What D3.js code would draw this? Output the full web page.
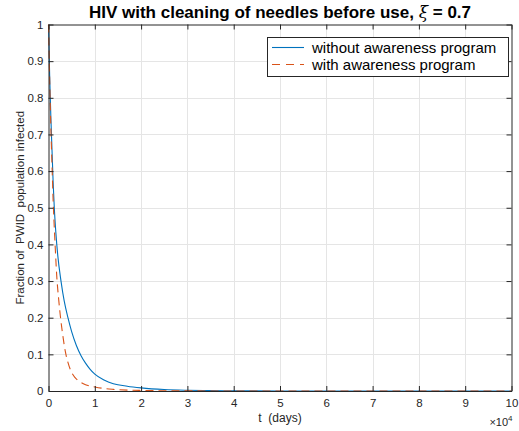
<!DOCTYPE html>
<html>
<head>
<meta charset="utf-8">
<script src="https://cdn.jsdelivr.net/npm/d3@7"></script>
<style>
  body { margin: 0; background: #fff; }
  text { font-family: "Liberation Sans", Arial, Helvetica, sans-serif; white-space: pre; }
</style>
</head>
<body>
<div id="chart"></div>
<script>
var W = 519, H = 431;
var margin = {left: 48.5, right: 8, top: 24.5, bottom: 40};

// time in days
var tWithout = [0, 250, 500, 750, 1000, 1250, 1600, 2000, 2700, 3400, 4200, 5000, 6000, 7000, 8000, 9000, 10000,
                12000, 14000, 17000, 20000, 25000, 30000, 35000, 40000, 50000, 70000, 100000];
var without = [1.0, 0.86, 0.75, 0.66, 0.57, 0.5, 0.43, 0.37, 0.3, 0.245, 0.2, 0.162, 0.125, 0.097, 0.076, 0.059, 0.046,
               0.03, 0.02, 0.013, 0.0085, 0.004, 0.002, 0.001, 0.0005, 0.0001, 0.0, 0.0];

var tWith = [0, 200, 400, 600, 800, 1000, 1200, 1500, 1800, 2200, 2600, 3000, 3600, 4200, 4900, 5700, 6700, 8000, 10000,
             12000, 14000, 17000, 20000, 25000, 30000, 40000, 60000, 100000];
var withProg = [1.0, 0.88, 0.77, 0.68, 0.6, 0.52, 0.46, 0.38, 0.31, 0.25, 0.2, 0.16, 0.11, 0.078, 0.053, 0.037, 0.026, 0.017, 0.011,
                0.0068, 0.0045, 0.0025, 0.0015, 0.0007, 0.0003, 0.0001, 0.0, 0.0];

var xTicks = [0, 1, 2, 3, 4, 5, 6, 7, 8, 9, 10];
var yTicks = [0, 0.1, 0.2, 0.3, 0.4, 0.5, 0.6, 0.7, 0.8, 0.9, 1];
var seriesNames = ["without awareness program", "with awareness program"];
var seriesColors = ["#0072BD", "#D95319"];

var svg = d3.select("#chart").append("svg")
    .attr("width", W)
    .attr("height", H);

var x = d3.scaleLinear().domain([0, 10]).range([margin.left, W - margin.right + 0.5]);
var y = d3.scaleLinear().domain([0, 1]).range([H - margin.bottom, margin.top]);

var axisCol = "#262626";

// grid
svg.append("g").selectAll("line")
    .data(xTicks.slice(1, -1)).enter().append("line")
    .attr("x1", function (d) { return Math.round(x(d)) + 0.5; })
    .attr("x2", function (d) { return Math.round(x(d)) + 0.5; })
    .attr("y1", y(0)).attr("y2", y(1))
    .attr("stroke", "#e5e5e5").attr("stroke-width", 1);
svg.append("g").selectAll("line")
    .data(yTicks.slice(1, -1)).enter().append("line")
    .attr("y1", function (d) { return Math.round(y(d)) + 0.5; })
    .attr("y2", function (d) { return Math.round(y(d)) + 0.5; })
    .attr("x1", x(0)).attr("x2", x(10))
    .attr("stroke", "#e5e5e5").attr("stroke-width", 1);

// lines
function makeLine(ts) {
    return d3.line()
        .x(function (d, i) { return x(ts[i] / 1e4); })
        .y(function (d) { return y(d); })
        .curve(d3.curveMonotoneX);
}

svg.append("path").datum(without)
    .attr("d", makeLine(tWithout))
    .attr("fill", "none")
    .attr("stroke", seriesColors[0])
    .attr("stroke-width", 1.1);

svg.append("path").datum(withProg)
    .attr("d", makeLine(tWith))
    .attr("fill", "none")
    .attr("stroke", seriesColors[1])
    .attr("stroke-width", 1.1)
    .attr("stroke-dasharray", "8,5");

// axes (box with ticks on all sides)
var fmt = d3.format("~g");
var axBottom = d3.axisBottom(x).tickValues(xTicks).tickFormat(fmt).tickSizeInner(-5).tickSizeOuter(0).tickPadding(8);
var axTop = d3.axisTop(x).tickValues(xTicks).tickSizeInner(-5).tickSizeOuter(0).tickFormat("");
var axLeft = d3.axisLeft(y).tickValues(yTicks).tickFormat(fmt).tickSizeInner(-5).tickSizeOuter(0).tickPadding(5);
var axRight = d3.axisRight(y).tickValues(yTicks).tickSizeInner(-5).tickSizeOuter(0).tickFormat("");

function styleAxis(g) {
    g.selectAll("path").attr("stroke", axisCol);
    g.selectAll("line").attr("stroke", axisCol);
    g.selectAll("text").attr("fill", axisCol).style("font-size", "11.5px");
}

svg.append("g").attr("transform", "translate(0," + y(0) + ")").call(axBottom).call(styleAxis);
svg.append("g").attr("transform", "translate(0," + y(1) + ")").call(axTop).call(styleAxis);
svg.append("g").attr("transform", "translate(" + x(0) + ",0)").call(axLeft).call(styleAxis);
svg.append("g").attr("transform", "translate(" + x(10) + ",0)").call(axRight).call(styleAxis);

// exponent label
var ex = svg.append("text")
    .attr("x", x(10) + 1)
    .attr("y", 426)
    .attr("text-anchor", "end")
    .attr("fill", axisCol)
    .style("font-size", "11px");
ex.append("tspan").text("\u00d710");
ex.append("tspan").attr("dy", -5).style("font-size", "8px").text("4");

// axis labels
svg.append("text")
    .attr("x", (x(0) + x(10)) / 2)
    .attr("y", 422)
    .attr("text-anchor", "middle")
    .attr("fill", axisCol)
    .style("font-size", "12px")
    .text("t  (days)");

svg.append("text")
    .attr("transform", "translate(24," + ((y(0) + y(1)) / 2) + ") rotate(-90)")
    .attr("text-anchor", "middle")
    .attr("fill", axisCol)
    .style("font-size", "11.5px")
    .text("Fraction of  PWID  population infected");

// title
var title = svg.append("text")
    .attr("x", (x(0) + x(10)) / 2)
    .attr("y", 18)
    .attr("text-anchor", "middle")
    .attr("fill", "#000")
    .style("font-size", "17px")
    .style("font-weight", "bold")
    .text("HIV with cleaning of needles before use, ");
title.append("tspan").style("font-style", "italic").style("font-family", "'DejaVu Serif', serif").style("font-weight", "normal").text("\u03be");
title.append("tspan").text(" = 0.7");

// legend
var lg = svg.append("g");
lg.append("rect")
    .attr("x", 267.5).attr("y", 37.5)
    .attr("width", 241).attr("height", 39)
    .attr("fill", "#fff")
    .attr("stroke", axisCol).attr("stroke-width", 1);

seriesNames.forEach(function (name, i) {
    var yy = 47.5 + i * 17;
    lg.append("line")
        .attr("x1", 272).attr("x2", 304)
        .attr("y1", yy).attr("y2", yy)
        .attr("stroke", seriesColors[i])
        .attr("stroke-width", 1.1)
        .attr("stroke-dasharray", i === 1 ? "8,6" : null);
    lg.append("text")
        .attr("x", 312).attr("y", yy + 5)
        .attr("fill", "#000")
        .style("font-size", "15px")
        .text(name);
});
</script>
</body>
</html>
